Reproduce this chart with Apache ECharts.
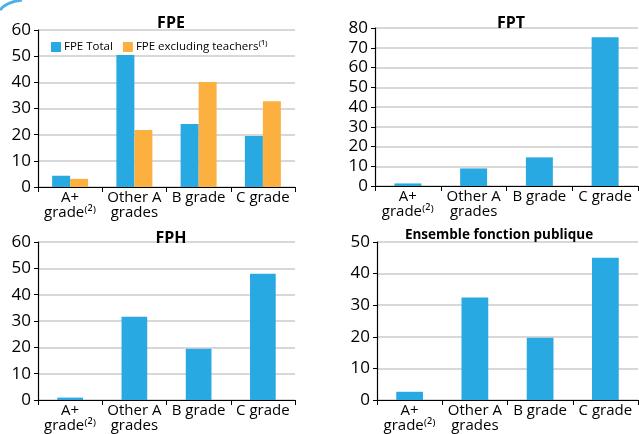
<!DOCTYPE html>
<html>
<head>
<meta charset="utf-8">
<script src="https://cdn.jsdelivr.net/npm/echarts@6/dist/echarts.min.js"></script>
<style>
  html, body { margin: 0; padding: 0; background: #fff; }
  #main { width: 639px; height: 434px; }
</style>
</head>
<body>
<div id="main"></div>
<script>
var categories = ['A+\ngrade⁽²⁾', 'Other A\ngrades', 'B grade', 'C grade'];
var fpeTotal = [4.3, 50.4, 24.1, 19.5];
var fpeExcl = [3.1, 21.8, 40.1, 32.8];
var fpt = [1.3, 8.9, 14.5, 75.3];
var fph = [0.9, 31.6, 19.5, 47.9];
var ensemble = [2.6, 32.4, 19.7, 45.0];
var panelTitles = ['FPE', 'FPT', 'FPH', 'Ensemble fonction publique'];
var yMax = [60, 80, 60, 50];

var blue = '#29a9e1';
var orange = '#fbb040';
var font = 'Open Sans';

var chart = echarts.init(document.getElementById('main'));

var grids = [
    { left: 38, top: 30, width: 257, height: 157 },
    { left: 375, top: 28, width: 263, height: 158 },
    { left: 38, top: 242, width: 257, height: 158 },
    { left: 377, top: 242, width: 261, height: 158 }
];

function xAx(i) {
    return {
        type: 'category',
        gridIndex: i,
        data: categories,
        axisLine: { lineStyle: { color: '#000', width: 1.2 } },
        axisTick: { show: true, length: 5, lineStyle: { color: '#000' } },
        axisLabel: {
            interval: 0, color: '#000', fontSize: 15, fontFamily: font,
            lineHeight: 15, margin: 3
        }
    };
}
function yAx(i) {
    return {
        type: 'value',
        gridIndex: i,
        min: 0,
        max: yMax[i],
        interval: 10,
        axisLine: { show: true, lineStyle: { color: '#000', width: 1.2 } },
        axisTick: { show: true, length: 4, lineStyle: { color: '#000' } },
        splitLine: { lineStyle: { color: '#cbcbcb', width: 1.5 } },
        axisLabel: { color: '#000', fontSize: 17, fontFamily: font, margin: 7 }
    };
}

var titleTops = [10, 10, 225, 223];
var titleLefts = [166, 506, 166, 494];
var titleSizes = [16, 16, 16, 13.5];

option = {
    animation: false,
    backgroundColor: '#fff',
    title: panelTitles.map(function (t, i) {
        return {
            text: t,
            left: titleLefts[i],
            top: titleTops[i],
            textAlign: 'center',
            textStyle: { fontFamily: font, fontSize: titleSizes[i], fontWeight: 'bold', color: '#000' }
        };
    }),
    legend: {
        left: 46,
        top: 36,
        itemWidth: 10,
        itemHeight: 10,
        itemGap: 10,
        icon: 'rect',
        textStyle: { fontFamily: font, fontSize: 11.5, color: '#000', padding: [0, 0, 0, -2] },
        data: ['FPE Total', 'FPE excluding teachers⁽¹⁾']
    },
    graphic: [{
        type: 'bezierCurve',
        shape: { x1: 0, y1: 10, cpx1: 6, cpy1: 2, x2: 22, y2: 0 },
        style: { stroke: '#4fb0e6', lineWidth: 3, fill: null }
    }],
    grid: grids,
    xAxis: [xAx(0), xAx(1), xAx(2), xAx(3)],
    yAxis: [yAx(0), yAx(1), yAx(2), yAx(3)],
    series: [
        { name: 'FPE Total', type: 'bar', xAxisIndex: 0, yAxisIndex: 0, data: fpeTotal,
          itemStyle: { color: blue }, barGap: '0%', barCategoryGap: '44%' },
        { name: 'FPE excluding teachers⁽¹⁾', type: 'bar', xAxisIndex: 0, yAxisIndex: 0, data: fpeExcl,
          itemStyle: { color: orange }, barGap: '0%', barCategoryGap: '44%' },
        { name: 'FPT', type: 'bar', xAxisIndex: 1, yAxisIndex: 1, data: fpt,
          itemStyle: { color: blue }, barWidth: '41%' },
        { name: 'FPH', type: 'bar', xAxisIndex: 2, yAxisIndex: 2, data: fph,
          itemStyle: { color: blue }, barWidth: '40%' },
        { name: 'Ensemble', type: 'bar', xAxisIndex: 3, yAxisIndex: 3, data: ensemble,
          itemStyle: { color: blue }, barWidth: '41%' }
    ]
};

chart.setOption(option);
</script>
</body>
</html>
